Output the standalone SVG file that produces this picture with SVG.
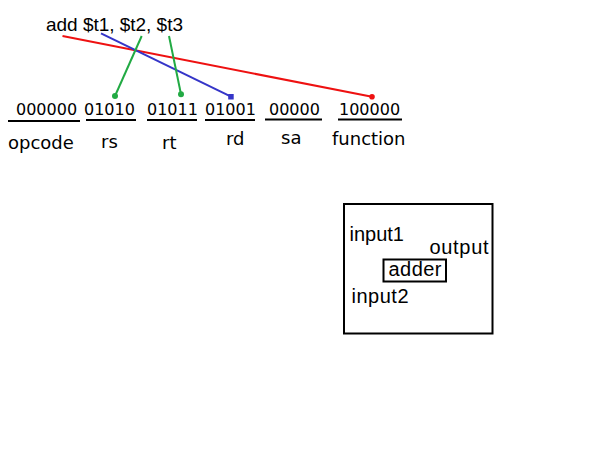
<svg xmlns="http://www.w3.org/2000/svg" width="589" height="456" viewBox="0 0 589 456">
<defs>
<style>
.instr{font-family:"Liberation Sans",Arial,sans-serif;font-size:19px;fill:#000}
.bits{font-family:"DejaVu Sans",Verdana,sans-serif;font-size:16px;fill:#000}
.lbl{font-family:"DejaVu Sans",Verdana,sans-serif;font-size:18px;fill:#000}
.box{font-family:"Liberation Sans",Arial,sans-serif;font-size:20px;fill:#000}
.ul{stroke:#000;stroke-width:2}
.frame{fill:none;stroke:#000;stroke-width:2}
.red{stroke:#ee1111;stroke-width:2;fill:none}
.blue{stroke:#3535c8;stroke-width:2;fill:none}
.green{stroke:#22aa44;stroke-width:2;fill:none}
</style>
</defs>
<rect width="589" height="456" fill="#fff"/>
<g id="instruction">
<text class="instr" x="46" y="31" textLength="137" lengthAdjust="spacing">add $t1, $t2, $t3</text>
</g>
<g id="field-opcode">
<text class="bits" x="16" y="115">000000</text>
<line class="ul" x1="8" y1="121" x2="80" y2="121"/>
<text class="lbl" x="8" y="149">opcode</text>
</g>
<g id="field-rs">
<text class="bits" x="84" y="115">01010</text>
<line class="ul" x1="86" y1="120" x2="136" y2="120"/>
<text class="lbl" x="101" y="148">rs</text>
</g>
<g id="field-rt">
<text class="bits" x="147" y="115">01011</text>
<line class="ul" x1="147" y1="120" x2="197" y2="120"/>
<text class="lbl" x="162" y="149">rt</text>
</g>
<g id="field-rd">
<text class="bits" x="205" y="115">01001</text>
<line class="ul" x1="205" y1="120" x2="255" y2="120"/>
<text class="lbl" x="226" y="145">rd</text>
</g>
<g id="field-sa">
<text class="bits" x="269" y="115">00000</text>
<line class="ul" x1="265" y1="119.5" x2="322" y2="119.5"/>
<text class="lbl" x="281" y="144">sa</text>
</g>
<g id="field-function">
<text class="bits" x="339" y="115">100000</text>
<line class="ul" x1="338" y1="119.5" x2="402" y2="119.5"/>
<text class="lbl" x="332" y="145">function</text>
</g>
<g id="connectors">
<line class="red" x1="62.5" y1="36" x2="372" y2="96.8"/>
<circle cx="372" cy="96.8" r="2.8" fill="#ee1111"/>
<line class="blue" x1="101" y1="33.3" x2="231" y2="96.7"/>
<rect x="228.2" y="94" width="5.5" height="5.5" fill="#3535c8"/>
<line class="green" x1="141.7" y1="36" x2="115" y2="96"/>
<circle cx="115" cy="96" r="3" fill="#22aa44"/>
<line class="green" x1="169" y1="36" x2="181" y2="94.3"/>
<circle cx="181" cy="94.3" r="3" fill="#22aa44"/>
</g>
<g id="adder-block">
<rect class="frame" x="344" y="204" width="148.5" height="129.5"/>
<text class="box" x="349.5" y="240.5">input1</text>
<text class="box" x="429.5" y="253.5" textLength="59" lengthAdjust="spacing">output</text>
<text class="box" x="351.5" y="303" textLength="57" lengthAdjust="spacing">input2</text>
</g>
<g id="adder">
<rect class="frame" x="383.5" y="259.5" width="62.5" height="22"/>
<text class="box" x="388.5" y="275.5" textLength="53" lengthAdjust="spacing">adder</text>
</g>
</svg>
